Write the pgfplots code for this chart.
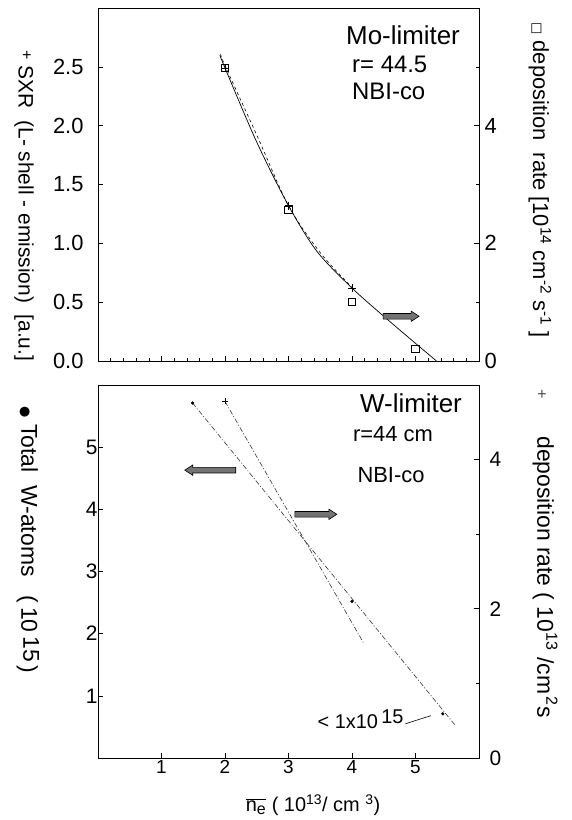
\documentclass[border=0pt]{standalone}
\usepackage{fontspec}
\setmainfont{Liberation Sans}
\newfontfamily\symfont{DejaVu Sans}
\usepackage{graphicx}
\usepackage{pgfplots}
\pgfplotsset{compat=1.18}
\newcommand{\fs}[1]{\fontsize{#1}{#1}\selectfont}
% fat arrow: #1,#2 = tail point (axis units), #3 = shaft length, #4 = direction (+1 right, -1 left)
\newcommand{\fatarrow}[4]{%
  \filldraw[fill=black!55, draw=black, line width=0.6bp]
    (axis cs:#1,#2) ++(0,-2.8bp) -- ++(#4*#3,0) -- ++(0,-2.4bp) -- ++(#4*8bp,5.2bp)
    -- ++(-#4*8bp,5.2bp) -- ++(0,-2.4bp) -- ++(-#4*#3,0) -- cycle;}
\begin{document}
\begin{tikzpicture}[x=1bp,y=1bp]
\path[use as bounding box] (0,0) rectangle (572,820);
\pgfplotsset{
  every axis/.append style={
    scale only axis, width=381bp,
    /pgf/number format/assume math mode=true,
    tick align=inside,
    major tick length=5bp, minor tick length=3bp,
    axis line style={line width=0.8bp},
    every tick/.style={black, line width=0.6bp},
    clip=false,
  },
}
% ================= top panel: left axis (SXR) =================
\begin{axis}[
  at={(98bp,459bp)}, anchor=south west, height=353bp,
  xmin=0, xmax=6, ymin=0, ymax=3,
  tick pos=left,
  xtick={1,2,3,4,5}, xticklabels={},
  minor xtick={0.2,0.4,...,5.9},
  ytick={0,0.5,1,1.5,2,2.5},
  yticklabel style={font=\fs{22}, xshift=-11bp,
    /pgf/number format/.cd, fixed, fixed zerofill, precision=1},
]
\addplot[black, line width=0.7bp, smooth, tension=0.5] coordinates {
  (1.92,2.60) (2.0,2.49) (2.5,1.86) (3.0,1.32) (3.45,0.93) (4.0,0.62) (4.5,0.38) (5.0,0.15) (5.33,0.0)};
\addplot[only marks, mark=+, mark size=4bp, line width=0.8bp] coordinates {
  (2,2.49) (3,1.32) (4,0.62)};
\fatarrow{4.49}{0.38}{28bp}{1}
\end{axis}
% ================= top panel: right axis (deposition) =================
\begin{axis}[
  at={(98bp,459bp)}, anchor=south west, height=353bp,
  xmin=0, xmax=6, ymin=0, ymax=6,
  xtick=\empty, ytick pos=right,
  ytick={0,2,4}, minor ytick={1,3,5},
  yticklabel style={font=\fs{22}, xshift=2bp},
]
\addplot[black, line width=0.6bp, dashed, smooth, tension=0.5] coordinates {
  (1.93,5.22) (2.0,5.02) (2.5,3.84) (3.0,2.64) (3.5,1.84) (4.0,1.25)};
\addplot[only marks, mark=square, mark size=3.6bp, line width=0.9bp] coordinates {
  (2,4.98) (3,2.57) (4,1.0) (5,0.2)};
\end{axis}
% ================= bottom panel: left axis (W atoms) =================
\begin{axis}[
  at={(98bp,62bp)}, anchor=south west, height=373bp,
  xmin=0, xmax=6, ymin=0, ymax=6,
  tick pos=left,
  xtick={1,2,3,4,5}, ytick={1,2,3,4,5},
  xticklabel style={font=\fs{19}, yshift=1bp},
  yticklabel style={font=\fs{21}, xshift=3bp},
]
\addplot[gray!40!black, line width=0.6bp, dash pattern=on 5bp off 2bp on 1bp off 2bp] coordinates {
  (1.49,5.71) (5.63,0.52)};
\addplot[only marks, mark=*, mark size=1.4bp] coordinates {
  (1.49,5.71) (4.0,2.52) (5.43,0.71)};
\draw[line width=0.6bp] (axis cs:4.84,0.55) -- (axis cs:5.24,0.68);
\node[anchor=base east, font=\fs{20}, inner sep=1bp] at (axis cs:4.83,0.47) {< 1x10\,\raisebox{5bp}{15}};
\fatarrow{2.17}{4.63}{43bp}{-1}
\fatarrow{3.10}{3.92}{34bp}{1}
\end{axis}
% ================= bottom panel: right axis (deposition) =================
\begin{axis}[
  at={(98bp,62bp)}, anchor=south west, height=373bp,
  xmin=0, xmax=6, ymin=0, ymax=5,
  xtick=\empty, ytick pos=right,
  ytick={0,2,4}, minor ytick={1,3},
  yticklabel style={font=\fs{21}, xshift=7bp},
]
\addplot[gray!40!black, line width=0.6bp, dash pattern=on 5bp off 2bp on 1bp off 2bp] coordinates {
  (2.0,4.78) (4.19,1.53)};
\addplot[only marks, mark=+, mark size=3bp, line width=0.6bp] coordinates {(2.0,4.78)};
\end{axis}
% ================= texts =================
\node[rotate=-90, font=\fs{21}] at (24,614)
  {\raisebox{3bp}{\fs{16}+} SXR\ \ (L- shell - emission)\ \ [a.u.]};
\node[rotate=-90, font=\fs{22}] at (540,640)
  {{\symfont\fs{13}□} deposition\ \ rate [10\textsuperscript{14} cm\textsuperscript{-2} s\textsuperscript{-1} ]};
\node[rotate=-90, font=\fs{23}] at (28,280)
  {{\symfont\fs{13}●}\ Total\ \ W-atoms\ \ \ (\,10\,\raisebox{2bp}{15}\,)};
\node[font=\fs{16}, gray!60!black] at (542,425) {+};
\node[rotate=-90, font=\fs{23}] at (545,243)
  {deposition rate ( 10\textsuperscript{13} /cm\textsuperscript{\,2}s};
\node[font=\fs{20}] at (313,15) {$\overline{\mbox{n}_{\mbox{\fs{16}e}}}$ ( 10\textsuperscript{13}/ cm \textsuperscript{3})};
\node[font=\fs{26}, anchor=base west, inner sep=0pt] at (346,775) {Mo-limiter};
\node[font=\fs{24}, anchor=base west, inner sep=0pt] at (352,747) {r= 44.5};
\node[font=\fs{24}, anchor=base west, inner sep=0pt] at (352,720) {NBI-co};
\node[font=\fs{26}] at (411,417) {W-limiter};
\node[font=\fs{22}] at (393,386) {r=44 cm};
\node[font=\fs{22}] at (391,345) {NBI-co};
\end{tikzpicture}
\end{document}
